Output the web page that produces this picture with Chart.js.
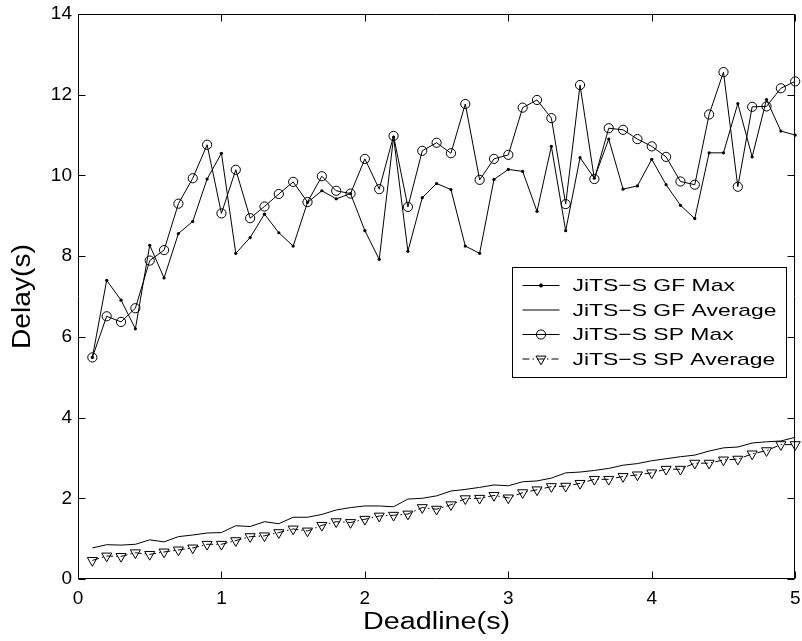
<!DOCTYPE html>
<html>
<head>
<meta charset="utf-8">
<script src="https://cdn.jsdelivr.net/npm/chart.js@4/dist/chart.umd.min.js"></script>
<style>
html,body{margin:0;padding:0;background:#fff;}
canvas{display:block;}
</style>
</head>
<body>
<canvas id="c" width="802" height="641"></canvas>
<script>
const deadlines = [0.1,0.2,0.3,0.4,0.5,0.6,0.7,0.8,0.9,1.0,
  1.1,1.2,1.3,1.4,1.5,1.6,1.7,1.8,1.9,2.0,
  2.1,2.2,2.3,2.4,2.5,2.6,2.7,2.8,2.9,3.0,
  3.1,3.2,3.3,3.4,3.5,3.6,3.7,3.8,3.9,4.0,
  4.1,4.2,4.3,4.4,4.5,4.6,4.7,4.8,4.9,5.0];

const gfMax = [5.49,7.40,6.91,6.20,8.27,7.46,8.56,8.86,9.91,10.55,
  8.07,8.46,9.04,8.58,8.25,9.33,9.62,9.42,9.55,8.63,
  7.92,10.95,8.12,9.45,9.80,9.65,8.25,8.07,9.90,10.15,
  10.10,9.11,10.72,8.63,10.44,9.93,10.90,9.66,9.74,10.40,
  9.77,9.26,8.93,10.56,10.56,11.78,10.46,11.88,11.10,11.00];

const gfAvg = [0.77,0.85,0.84,0.86,0.97,0.92,1.05,1.09,1.14,1.15,
  1.32,1.30,1.42,1.37,1.53,1.53,1.60,1.71,1.77,1.81,
  1.81,1.79,1.98,2.00,2.06,2.18,2.22,2.27,2.33,2.31,
  2.41,2.43,2.50,2.63,2.65,2.69,2.74,2.82,2.86,2.93,
  2.98,3.03,3.07,3.17,3.25,3.27,3.37,3.40,3.42,3.51];

const spMax = [5.49,6.51,6.37,6.71,7.89,8.15,9.30,9.93,10.76,9.06,
  10.14,8.94,9.23,9.54,9.84,9.34,9.98,9.62,9.55,10.41,
  9.66,10.98,9.22,10.61,10.81,10.55,11.77,9.89,10.41,10.51,
  11.68,11.87,11.42,9.29,12.24,9.91,11.17,11.13,10.90,10.72,
  10.46,9.85,9.77,11.51,12.56,9.72,11.70,11.71,12.16,12.33];

const spAvg = [0.46,0.57,0.56,0.65,0.61,0.67,0.72,0.77,0.86,0.86,
  0.95,1.05,1.07,1.15,1.24,1.19,1.33,1.42,1.40,1.48,
  1.56,1.58,1.61,1.77,1.73,1.84,1.99,2.00,2.07,2.01,
  2.14,2.21,2.29,2.30,2.37,2.47,2.47,2.54,2.58,2.63,
  2.72,2.72,2.87,2.87,2.95,2.97,3.10,3.18,3.33,3.33];

const seriesLabels = ['JiTS\u2212S GF Max','JiTS\u2212S GF Average','JiTS\u2212S SP Max','JiTS\u2212S SP Average'];
const xTitle = 'Deadline(s)';
const yTitle = 'Delay(s)';
const xTicks = [0,1,2,3,4,5];
const yTicks = [0,2,4,6,8,10,12,14];

const FONT = "'Liberation Sans', Arial, Helvetica, sans-serif";
Chart.defaults.font.family = FONT;
Chart.defaults.color = '#000';

const pts = arr => arr.map((v,i)=>({x:deadlines[i], y:v}));
const DASHDOT = [7,3,1.5,3];

// draws text horizontally stretched so that it spans a given width
function stretchedText(ctx, text, x, y, size, targetW, align){
  ctx.font = size + "px " + FONT;
  const w = ctx.measureText(text).width;
  const s = targetW / w;
  ctx.save();
  ctx.translate(x, y);
  ctx.scale(s, 1);
  ctx.textAlign = align; ctx.textBaseline = 'middle';
  ctx.fillText(text, 0, 0);
  ctx.restore();
}

const frameTicks = {
  id:'frameTicks',
  afterDatasetsDraw(chart){
    const {ctx, chartArea:a, scales:{x,y}} = chart;
    ctx.save();
    ctx.strokeStyle='#000'; ctx.lineWidth=1; ctx.setLineDash([]);
    const L=Math.round(a.left)+0.5, R=Math.round(a.right)-0.5, T=Math.round(a.top)+0.5, B=Math.round(a.bottom)-0.5;
    ctx.beginPath();
    ctx.rect(L,T,R-L,B-T);
    const len=7;
    xTicks.forEach(v=>{
      const px=Math.round(x.getPixelForValue(v))+0.5;
      ctx.moveTo(px,B); ctx.lineTo(px,B-len);
      ctx.moveTo(px,T); ctx.lineTo(px,T+len);
    });
    yTicks.forEach(v=>{
      const py=Math.round(y.getPixelForValue(v))+0.5;
      ctx.moveTo(L,py); ctx.lineTo(L+len,py);
      ctx.moveTo(R,py); ctx.lineTo(R-len,py);
    });
    ctx.stroke();
    ctx.restore();
  },
  afterDraw(chart){
    const {ctx, chartArea:a} = chart;
    ctx.save();
    ctx.fillStyle='#000';
    // axis titles
    stretchedText(ctx, xTitle, (a.left+a.right)/2, 623, 23, 147, 'center');
    ctx.save();
    ctx.translate(23, (a.top+a.bottom)/2);
    ctx.rotate(-Math.PI/2);
    stretchedText(ctx, yTitle, 0, 0, 25, 105, 'center');
    ctx.restore();

    // legend
    const lx=Math.round(a.right)-283+0.5, ly=Math.round(a.top)+253+0.5, lw=274, lh=110;
    ctx.fillStyle='#fff';
    ctx.fillRect(lx,ly,lw,lh);
    ctx.strokeStyle='#000'; ctx.lineWidth=1;
    ctx.strokeRect(lx,ly,lw,lh);
    const rows=[18,42.5,67,91.5];
    const x0=lx+10, x1=lx+47, xm=(x0+x1)/2;
    ctx.font = "17px " + FONT;
    const refW = ctx.measureText(seriesLabels[1]).width;
    const sx = 204/refW;
    chart.data.datasets.forEach((ds,i)=>{
      const yy=ly+rows[i];
      ctx.strokeStyle='#000';
      ctx.setLineDash(ds.borderDash||[]);
      ctx.beginPath(); ctx.moveTo(x0,yy); ctx.lineTo(x1,yy); ctx.stroke();
      ctx.setLineDash([]);
      if(ds.pointRadius>0){
        const r=ds.pointRadius;
        ctx.beginPath();
        if(ds.pointStyle==='triangle'){
          ctx.moveTo(xm, yy+r);
          ctx.lineTo(xm - r*Math.sin(Math.PI/3), yy - r*0.5);
          ctx.lineTo(xm + r*Math.sin(Math.PI/3), yy - r*0.5);
          ctx.closePath();
        } else {
          ctx.arc(xm,yy,r,0,Math.PI*2);
        }
        if(ds.pointBackgroundColor && ds.pointBackgroundColor!=='rgba(0,0,0,0)'){ctx.fillStyle=ds.pointBackgroundColor; ctx.fill();}
        ctx.stroke();
      }
      ctx.fillStyle='#000';
      ctx.save();
      ctx.translate(lx+60, yy+1);
      ctx.scale(sx,1);
      ctx.font="17px "+FONT;
      ctx.textBaseline='middle'; ctx.textAlign='left';
      ctx.fillText(ds.label, 0, 0);
      ctx.restore();
    });
    ctx.restore();
  }
};

new Chart(document.getElementById('c'), {
  type:'line',
  data:{
    datasets:[
      {label:seriesLabels[0], data:pts(gfMax), borderColor:'#000', borderWidth:1,
       pointStyle:'circle', pointRadius:1.6, pointBackgroundColor:'#000', pointBorderColor:'#000', pointBorderWidth:0, clip:false},
      {label:seriesLabels[1], data:pts(gfAvg), borderColor:'#000', borderWidth:1, pointRadius:0, clip:false},
      {label:seriesLabels[2], data:pts(spMax), borderColor:'#000', borderWidth:1,
       pointStyle:'circle', pointRadius:4.6, pointBackgroundColor:'rgba(0,0,0,0)', pointBorderColor:'#000', pointBorderWidth:1, clip:false},
      {label:seriesLabels[3], data:pts(spAvg), borderColor:'#000', borderWidth:1, borderDash:DASHDOT,
       pointStyle:'triangle', pointRotation:180, pointRadius:5.8, pointBackgroundColor:'rgba(0,0,0,0)', pointBorderColor:'#000', pointBorderWidth:1, clip:false}
    ]
  },
  options:{
    responsive:false, animation:false, events:[],
    layout:{padding:{top:14,right:6,left:0,bottom:0}},
    plugins:{legend:{display:false}, tooltip:{enabled:false}},
    scales:{
      x:{type:'linear', min:0, max:5,
        afterBuildTicks(s){ s.ticks = xTicks.map(v=>({value:v})); },
        ticks:{color:'#000', font:{size:19}, padding:8, maxRotation:0, callback:v=>String(v)},
        grid:{display:false, drawTicks:false}, border:{display:false},
        title:{display:false},
        afterFit(s){ s.height=62; s.paddingLeft=0; s.paddingRight=0; }
      },
      y:{type:'linear', min:0, max:14,
        afterBuildTicks(s){ s.ticks = yTicks.map(v=>({value:v})); },
        ticks:{color:'#000', font:{size:19}, padding:6, callback:v=>String(v)},
        grid:{display:false, drawTicks:false}, border:{display:false},
        title:{display:false},
        afterFit(s){ s.width=78; s.paddingTop=0; s.paddingBottom=0; }
      }
    }
  },
  plugins:[frameTicks]
});
</script>
</body>
</html>
